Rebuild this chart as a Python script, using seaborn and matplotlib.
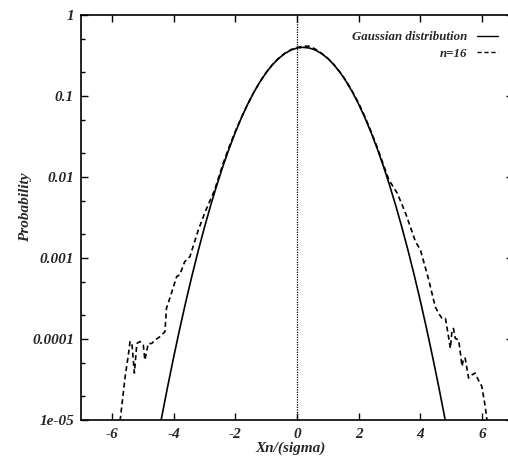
import matplotlib
matplotlib.use("Agg")
import matplotlib.pyplot as plt
import seaborn as sns
from matplotlib.ticker import FixedLocator, FixedFormatter, LogLocator, NullFormatter

# ---------------- data ----------------
gauss_x = [-4.4, -4.2, -4.0, -3.8, -3.6, -3.4, -3.2, -3.0, -2.8, -2.6, -2.4, -2.2,
           -2.0, -1.8, -1.6, -1.4, -1.2, -1.0, -0.8, -0.6, -0.4, -0.2, 0.0, 0.2,
           0.4, 0.6, 0.8, 1.0, 1.2, 1.4, 1.6, 1.8, 2.0, 2.2, 2.4, 2.6, 2.8, 3.0,
           3.2, 3.4, 3.6, 3.8, 4.0, 4.2, 4.4, 4.6, 4.8]
gauss_p = [1.014e-5, 2.494e-5, 5.894e-5, 1.338e-4, 2.919e-4, 6.119e-4, 1.232e-3,
           2.384e-3, 4.432e-3, 7.915e-3, 1.358e-2, 2.239e-2, 3.547e-2, 5.399e-2,
           7.895e-2, 0.11092, 0.14973, 0.19419, 0.24197, 0.28969, 0.33322, 0.36827,
           0.39104, 0.39894, 0.39104, 0.36827, 0.33322, 0.28969, 0.24197, 0.19419,
           0.14973, 0.11092, 7.895e-2, 5.399e-2, 3.547e-2, 2.239e-2, 1.358e-2,
           7.915e-3, 4.432e-3, 2.384e-3, 1.232e-3, 6.119e-4, 2.919e-4, 1.338e-4,
           5.894e-5, 2.494e-5, 1.014e-5]

n16_x = [-5.80, -5.73, -5.57, -5.46, -5.41, -5.35, -5.27, -5.19, -5.09, -4.98,
         -4.93, -4.82, -4.71, -4.60, -4.44, -4.28, -4.23, -4.12, -3.90, -3.80,
         -3.64, -3.47, -3.20, -2.99, -2.67, -2.40, -2.20, -2.00, -1.80, -1.60,
         -1.40, -1.20, -1.00, -0.80, -0.60, -0.40, -0.20, 0.00, 0.20, 0.40,
         0.60, 0.80, 1.00, 1.20, 1.40, 1.60, 1.80, 2.00, 2.20, 2.40, 2.60,
         2.80, 2.98, 3.25, 3.52, 3.84, 4.00, 4.27, 4.43, 4.48, 4.59, 4.70,
         4.81, 4.91, 4.97, 5.02, 5.07, 5.13, 5.24, 5.35, 5.40, 5.45, 5.56,
         5.67, 5.77, 5.88, 5.99, 6.10, 6.15, 6.20]
n16_p = [3.0e-6, 1.0e-5, 3.4e-5, 6.6e-5, 9.3e-5, 8.8e-5, 3.8e-5, 8.8e-5, 9.3e-5, 8.4e-5,
         5.5e-5, 8.8e-5, 8.8e-5, 9.7e-5, 1.07e-4, 1.23e-4, 2.4e-4, 3.2e-4, 5.9e-4, 6.2e-4,
         9.0e-4, 1.04e-3, 2.2e-3, 3.6e-3, 6.9e-3, 0.0145, 0.0235, 0.0365, 0.0545, 0.079,
         0.111, 0.150, 0.195, 0.243, 0.291, 0.336, 0.373, 0.398, 0.412, 0.412,
         0.378, 0.336, 0.292, 0.243, 0.196, 0.152, 0.113, 0.081, 0.0555, 0.0365, 0.0232,
         0.0142, 9.2e-3, 6.3e-3, 3.56e-3, 1.59e-3, 1.26e-3, 5.35e-4, 3.0e-4, 2.5e-4, 2.07e-4, 1.8e-4,
         1.8e-4, 1.07e-4, 7.7e-5, 1.23e-4, 1.35e-4, 1.02e-4, 9.7e-5, 4.6e-5, 5.8e-5, 5.8e-5, 3.3e-5,
         3.6e-5, 3.8e-5, 3.1e-5, 2.6e-5, 1.46e-5, 1.05e-5, 3.0e-6]

x_ticks = [-6, -4, -2, 0, 2, 4, 6]
x_tick_labels = ["-6", "-4", "-2", "0", "2", "4", "6"]
y_ticks = [1, 0.1, 0.01, 0.001, 0.0001, 1e-05]
y_tick_labels = ["1", "0.1", "0.01", "0.001", "0.0001", "1e-05"]
series_labels = ["Gaussian distribution", "n=16"]
x_label = "Xn/(sigma)"
y_label = "Probability"

# ---------------- style ----------------
sns.set_style("ticks")
plt.rcParams["font.family"] = ["Liberation Serif", "DejaVu Serif"]
plt.rcParams["font.weight"] = "bold"
plt.rcParams["font.style"] = "italic"
plt.rcParams["axes.labelweight"] = "bold"

W, H = 508, 466
fig = plt.figure(figsize=(W / 100, H / 100), dpi=100)
fig.patch.set_facecolor("white")
left, right, top, bottom = 81, 513, 15, 420
ax = fig.add_axes([left / W, 1 - bottom / H, (right - left) / W, (bottom - top) / H])

sns.lineplot(x=gauss_x, y=gauss_p, ax=ax, color="black", lw=1.2,
             label=series_labels[0], sort=False)
sns.lineplot(x=n16_x, y=n16_p, ax=ax, color="black", lw=1.2,
             linestyle=(0, (3, 2)), label=series_labels[1], sort=False)
ax.axvline(0, color="black", lw=0.9, linestyle=(0, (1, 1)))

ax.set_yscale("log")
ax.set_xlim(-7, 7)
ax.set_ylim(1e-5, 1)

ax.xaxis.set_major_locator(FixedLocator(x_ticks))
ax.xaxis.set_major_formatter(FixedFormatter(x_tick_labels))
ax.yaxis.set_major_locator(FixedLocator(y_ticks))
ax.yaxis.set_major_formatter(FixedFormatter(y_tick_labels))
ax.yaxis.set_minor_locator(LogLocator(base=10, subs=(2, 5), numticks=20))
ax.yaxis.set_minor_formatter(NullFormatter())

ax.tick_params(which="both", direction="in", top=True, right=True, color="black",
               labelsize=11, width=1.0)
ax.tick_params(which="major", length=5)
ax.tick_params(which="minor", length=3)
ax.tick_params(axis="x", pad=6)
ax.tick_params(axis="y", pad=5)
for lab in ax.get_xticklabels() + ax.get_yticklabels():
    lab.set_fontweight("bold")
    lab.set_fontstyle("italic")

for s in ax.spines.values():
    s.set_linewidth(1.2)
    s.set_color("black")

ax.set_xlabel(x_label, fontsize=11, fontweight="bold", fontstyle="italic")
ax.set_ylabel(y_label, fontsize=11, fontweight="bold", fontstyle="italic")
ax.xaxis.set_label_coords((291 - left) / (right - left), -(442 - bottom) / (bottom - top))
ax.yaxis.set_label_coords((32 - left) / (right - left), (bottom - 207) / (bottom - top))

handles, labels = ax.get_legend_handles_labels()
leg = ax.legend(handles, labels, loc="upper right", markerfirst=False, frameon=False,
                handlelength=1.6, handletextpad=0.8, labelspacing=0.35,
                borderaxespad=0, borderpad=0,
                bbox_to_anchor=(498 / W, 1 - 31 / H), bbox_transform=fig.transFigure,
                prop={"family": ["Liberation Serif"], "weight": "bold", "style": "italic", "size": 9.3})
for line in leg.get_lines():
    line.set_linewidth(1.0)

fig.savefig("out.png", dpi=100, facecolor="white")
